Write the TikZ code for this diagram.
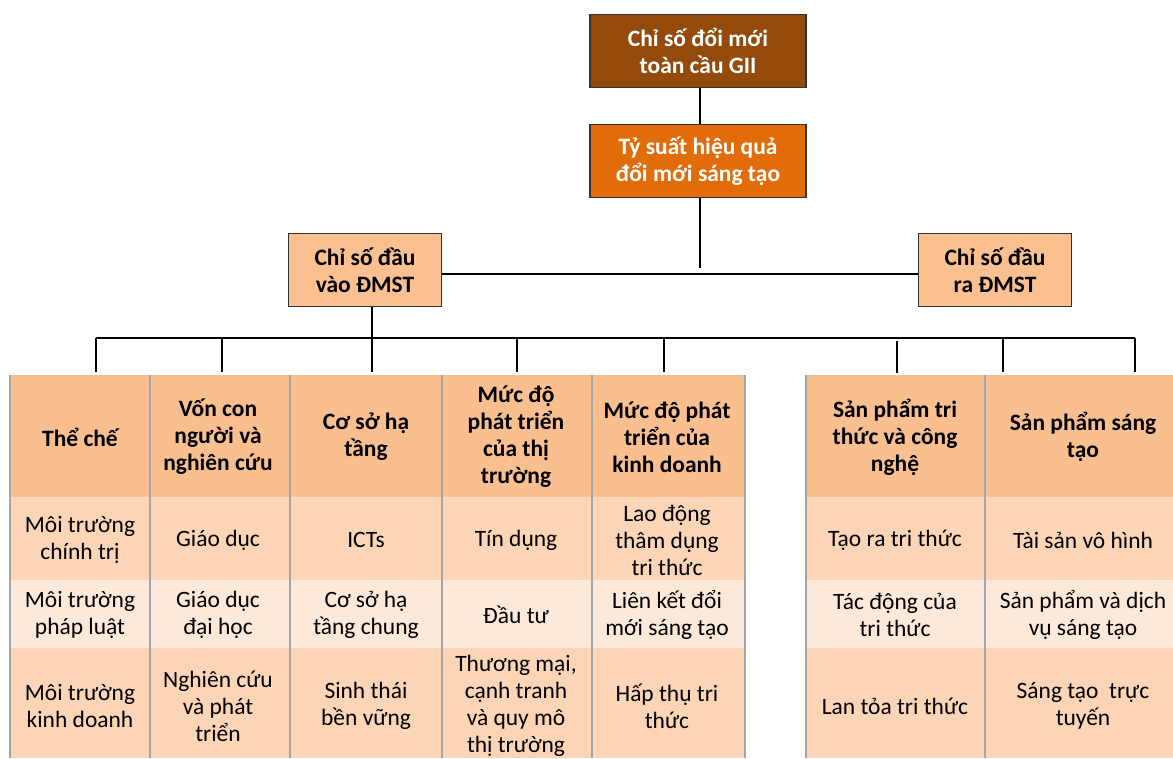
\documentclass[tikz,border=0pt]{standalone}
\usepackage{fontspec}
\setmainfont{Carlito}
\usepackage{xcolor}
\usepackage{tikz}

\definecolor{giibrown}{HTML}{934A0B}
\definecolor{effor}{HTML}{E36C0A}
\definecolor{boxlight}{HTML}{FAC090}
\definecolor{hdrfill}{HTML}{F9BF8F}
\definecolor{rowa}{HTML}{FBD5B5}
\definecolor{rowb}{HTML}{FDE9D9}
\definecolor{sepgray}{HTML}{A6A6A6}

\newcommand{\dgsize}{\fontsize{17.6}{20.3}\selectfont}

\tikzset{
  topbox/.style={draw=black!80, line width=1.2pt, align=center, font=\dgsize\bfseries,
    minimum width=162pt, minimum height=55pt, inner sep=0pt},
  subbox/.style={draw=black!80, line width=1.2pt, fill=boxlight, align=center, font=\dgsize\bfseries,
    minimum width=115pt, minimum height=55pt, inner sep=0pt},
  tree/.style={line width=2.2pt, black},
  hd/.style={align=center, font=\dgsize\bfseries},
  cl/.style={align=center, font=\dgsize}
}

\begin{document}
\begin{tikzpicture}[x=0.75pt, y=-0.75pt]
  \useasboundingbox (0,0) rectangle (1173,758);

  % top of the tree
  \node[topbox, fill=giibrown, text=white] (gii) at (698,51) {Chỉ số đổi mới\\toàn cầu GII};
  \node[topbox, fill=effor, text=white] (eff) at (698,161) {Tỷ suất hiệu quả\\đổi mới sáng tạo};
  \node[subbox] (inp) at (365,270) {Chỉ số đầu\\vào ĐMST};
  \node[subbox] (outp) at (995,270) {Chỉ số đầu\\ra ĐMST};

  \coordinate (effend) at (700,268);
  \coordinate (busL) at (96,338);
  \coordinate (busR) at (1135,338);
  \coordinate (inpend) at (372,372);

  \draw[tree] (gii.south -| 700,0) -- (eff.north -| 700,0);
  \draw[tree] (eff.south -| effend) -- (effend);
  \draw[tree] (inp.east |- 0,274) -- (outp.west |- 0,274);
  \draw[tree] (inp.south -| inpend) -- (inpend);
  \draw[tree] (busL) -- (busR);
  \foreach \x in {96,222,517,664,1003,1135}
    \draw[tree] (\x,338) coordinate (t\x) -- (\x,372);
  \draw[line width=1.5pt] (897,341) coordinate (t897) -- (897,373);

  % left table
  \fill[hdrfill] (10,375) rectangle (745,497);
  \fill[rowa] (10,497) rectangle (745,580);
  \fill[rowb] (10,580) rectangle (745,648);
  \fill[rowa] (10,648) rectangle (745,758);
  % right table
  \fill[hdrfill] (806,375) rectangle (1173,497);
  \fill[rowa] (806,497) rectangle (1173,580);
  \fill[rowb] (806,580) rectangle (1173,648);
  \fill[rowa] (806,648) rectangle (1173,758);

  \foreach \x in {10,150,290,442,592,745,806,985}
    \draw[sepgray, line width=1pt] (\x,375) -- (\x,758);

  % headers
  \node[hd] (h1) at (80,437) {Thể chế};
  \node[hd] (h2) at (218,437) {Vốn con\\người và\\nghiên cứu};
  \node[hd] (h3) at (366,437) {Cơ sở hạ\\tầng};
  \node[hd] (h4) at (516,437) {Mức độ\\phát triển\\của thị\\trường};
  \node[hd] (h5) at (667,437) {Mức độ phát\\triển của\\kinh doanh};
  \node[hd] (h6) at (895,437) {Sản phẩm tri\\thức và công\\nghệ};
  \node[hd] (h7) at (1083,437) {Sản phẩm sáng\\tạo};

  % first row
  \node[cl] (a1) at (80,540) {Môi trường\\chính trị};
  \node[cl] (a2) at (218,540) {Giáo dục};
  \node[cl] (a3) at (366,540) {ICTs};
  \node[cl] (a4) at (516,540) {Tín dụng};
  \node[cl] (a5) at (667,540) {Lao động\\thâm dụng\\tri thức};
  \node[cl] (a6) at (895,540) {Tạo ra tri thức};
  \node[cl] (a7) at (1083,540) {Tài sản vô hình};

  % second row
  \node[cl] (b1) at (80,615) {Môi trường\\pháp luật};
  \node[cl] (b2) at (218,615) {Giáo dục\\đại học};
  \node[cl] (b3) at (366,615) {Cơ sở hạ\\tầng chung};
  \node[cl] (b4) at (516,615) {Đầu tư};
  \node[cl] (b5) at (667,615) {Liên kết đổi\\mới sáng tạo};
  \node[cl] (b6) at (895,615) {Tác động của\\tri thức};
  \node[cl] (b7) at (1083,615) {Sản phẩm và dịch\\vụ sáng tạo};

  % third row
  \node[cl] (c1) at (80,706) {Môi trường\\kinh doanh};
  \node[cl] (c2) at (218,706) {Nghiên cứu\\và phát\\triển};
  \node[cl] (c3) at (366,706) {Sinh thái\\bền vững};
  \node[cl] (c4) at (516,706) {Thương mại,\\cạnh tranh\\và quy mô\\thị trường};
  \node[cl] (c5) at (667,706) {Hấp thụ tri\\thức};
  \node[cl] (c6) at (895,706) {Lan tỏa tri thức};
  \node[cl] (c7) at (1083,706) {Sáng tạo~ trực\\tuyến};
\end{tikzpicture}
\end{document}
